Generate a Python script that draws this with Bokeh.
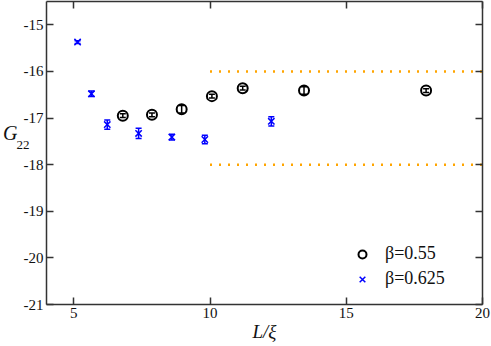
from bokeh.plotting import figure
from bokeh.models import (ColumnDataSource, Whisker, TeeHead, LinearAxis, FixedTicker,
                          Legend, LegendItem, Range1d)
from bokeh.embed import file_html
from bokeh.resources import INLINE

# beta = 0.55 (black circles)
x_055 = [6.80, 7.87, 8.96, 10.07, 11.20, 13.45, 17.93]
y_055 = [-16.95, -16.93, -16.81, -16.53, -16.36, -16.41, -16.41]
e_055 = [0.04, 0.04, 0.08, 0.04, 0.04, 0.08, 0.04]

# beta = 0.625 (blue crosses)
x_0625 = [5.14, 5.65, 6.23, 7.38, 8.60, 9.81, 12.25]
y_0625 = [-15.37, -16.48, -17.14, -17.33, -17.41, -17.46, -17.07]
e_0625 = [0.03, 0.06, 0.10, 0.11, 0.06, 0.09, 0.10]

# dotted reference band
band_x = [10, 20]
band_upper = [-16, -16]
band_lower = [-18, -18]

x_ticks = [5, 10, 15, 20]
x_tick_labels = ["5", "10", "15", "20"]
y_ticks = [-21, -20, -19, -18, -17, -16, -15]
y_tick_labels = ["-21", "-20", "-19", "-18", "-17", "-16", "-15"]

x_title = "L/ξ"
y_title_main = "G"
y_title_sub = "22"

SERIF = "Liberation Serif"
TXT = "#111111"
AX = "#333333"

p = figure(width=491, height=346, x_range=Range1d(4, 20), y_range=Range1d(-21, -14.5),
           output_backend="svg", toolbar_location=None,
           x_axis_location=None, y_axis_location=None,
           min_border_left=46, min_border_right=9, min_border_top=1, min_border_bottom=42)
p.grid.visible = False
p.outline_line_color = None
p.background_fill_color = "white"
p.border_fill_color = "white"


def style_axis(ax, ticks, labels=None, hidden_size="1px", hidden_standoff=0):
    ax.ticker = FixedTicker(ticks=ticks)
    ax.major_tick_in = 7
    ax.major_tick_out = 0
    ax.minor_tick_in = 0
    ax.minor_tick_out = 0
    ax.axis_line_color = AX
    ax.axis_line_width = 1.5
    ax.major_tick_line_color = AX
    ax.major_tick_line_width = 1.5
    ax.major_label_text_font = SERIF
    if labels is not None:
        ax.major_label_overrides = {t: s for t, s in zip(ticks, labels)}
        ax.major_label_text_font_size = "15px"
        ax.major_label_text_color = TXT
        ax.major_label_standoff = 3
    else:
        ax.major_label_text_font_size = hidden_size
        ax.major_label_text_color = None
        ax.major_label_standoff = hidden_standoff


bottom = LinearAxis()
style_axis(bottom, x_ticks, x_tick_labels)
bottom.axis_label = x_title
bottom.axis_label_text_font = SERIF
bottom.axis_label_text_font_style = "italic"
bottom.axis_label_text_font_size = "19px"
bottom.axis_label_text_color = TXT
bottom.axis_label_standoff = 0
p.add_layout(bottom, "below")

left = LinearAxis()
style_axis(left, y_ticks, y_tick_labels)
p.add_layout(left, "left")


# y title "G_22" written as two label-only axes stacked left of the main axis
def title_axis(text, at, size, style, standoff):
    ax = LinearAxis(ticker=FixedTicker(ticks=[at]), major_label_overrides={at: text})
    ax.axis_line_color = None
    ax.major_tick_line_color = None
    ax.minor_tick_line_color = None
    ax.major_tick_in = 0
    ax.major_tick_out = 0
    ax.minor_tick_in = 0
    ax.minor_tick_out = 0
    ax.major_label_text_font = SERIF
    ax.major_label_text_font_style = style
    ax.major_label_text_font_size = size
    ax.major_label_text_color = TXT
    ax.major_label_standoff = standoff
    return ax


p.add_layout(title_axis(y_title_sub, -17.58, "13px", "normal", -9), "left")
p.add_layout(title_axis(y_title_main, -17.33, "20px", "italic", -4), "left")

top = LinearAxis()
style_axis(top, x_ticks)
p.add_layout(top, "above")

right = LinearAxis()
style_axis(right, y_ticks, hidden_size="0px", hidden_standoff=-8)
p.add_layout(right, "right")

# dotted band lines
p.line(band_x, band_upper, line_color="#FFA500", line_width=2.5, line_dash="2 7")
p.line(band_x, band_lower, line_color="#FFA500", line_width=2.5, line_dash="2 7")

src1 = ColumnDataSource(dict(x=x_055, y=y_055,
                             lo=[y - e for y, e in zip(y_055, e_055)],
                             hi=[y + e for y, e in zip(y_055, e_055)]))
src2 = ColumnDataSource(dict(x=x_0625, y=y_0625,
                             lo=[y - e for y, e in zip(y_0625, e_0625)],
                             hi=[y + e for y, e in zip(y_0625, e_0625)]))

r1 = p.scatter("x", "y", source=src1, marker="circle", size=10, fill_color=None,
               line_color="black", line_width=2)
r2 = p.scatter("x", "y", source=src2, marker="x", size=9, line_color="blue", line_width=1.5)

for src, col in ((src1, "black"), (src2, "blue")):
    w = Whisker(source=src, base="x", upper="hi", lower="lo", dimension="height",
                line_color=col, line_width=1.5,
                upper_head=TeeHead(size=6, line_color=col, line_width=1.5),
                lower_head=TeeHead(size=6, line_color=col, line_width=1.5))
    p.add_layout(w)

legend = Legend(items=[LegendItem(label="β=0.55", renderers=[r1]),
                       LegendItem(label="β=0.625", renderers=[r2])],
                location=(306, 15), border_line_color=None, background_fill_alpha=0,
                label_text_font=SERIF, label_text_font_size="18px",
                label_text_color=TXT,
                glyph_width=20, glyph_height=20, label_height=20, spacing=4,
                padding=10, margin=0, label_standoff=13)
p.add_layout(legend)

open("out.html", "w").write(file_html(p, INLINE))
